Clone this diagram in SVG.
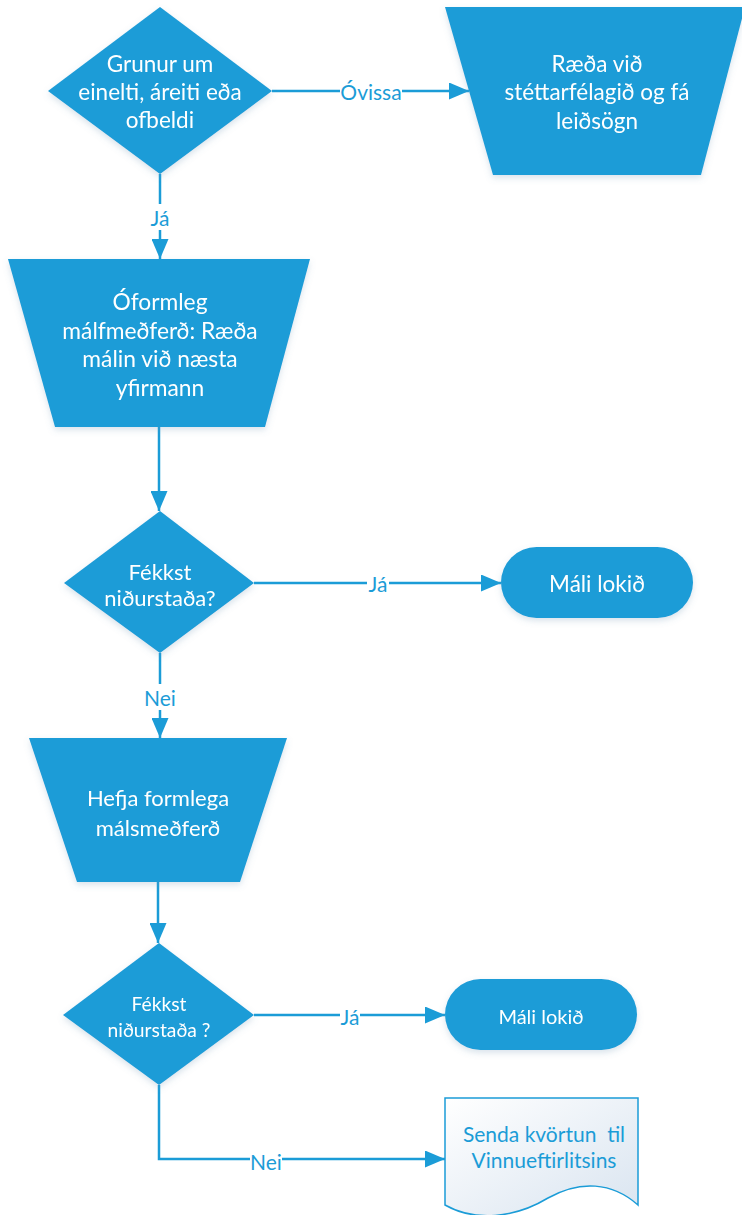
<svg xmlns="http://www.w3.org/2000/svg" width="742" height="1215" viewBox="0 0 742 1215">
<style>
.n{fill:#1b9cd7}
.t{font-family:Lato,"Liberation Sans",sans-serif;fill:#fff;text-anchor:middle;dominant-baseline:central}
.c{fill:none;stroke:#1b9cd7;stroke-width:2.5}
.l{font-family:Lato,"Liberation Sans",sans-serif;fill:#1b9cd7;font-size:21px;text-anchor:middle;dominant-baseline:central}
.bg{fill:#fff}
</style>
<defs>
<marker id="ah" markerWidth="20" markerHeight="17" refX="20" refY="8.5" orient="auto" markerUnits="userSpaceOnUse"><path d="M0,0 L20,8.5 L0,17 z" fill="#1b9cd7"/></marker>
<filter id="sh" x="-10%" y="-10%" width="120%" height="130%"><feDropShadow dx="0" dy="3" stdDeviation="3" flood-color="#6a8fb0" flood-opacity="0.25"/></filter>
<linearGradient id="dg" x1="0" y1="0" x2="1" y2="1"><stop offset="0" stop-color="#ffffff"/><stop offset="1" stop-color="#d9e4f0"/></linearGradient>
</defs>
<g id="connectors">
<path class="c" d="M272,91 H469" marker-end="url(#ah)"/>
<path class="c" d="M160,174 V259" marker-end="url(#ah)"/>
<path class="c" d="M159,427 V511" marker-end="url(#ah)"/>
<path class="c" d="M254,583 H501" marker-end="url(#ah)"/>
<path class="c" d="M160,653 V738" marker-end="url(#ah)"/>
<path class="c" d="M158,882 V943" marker-end="url(#ah)"/>
<path class="c" d="M254,1015 H445" marker-end="url(#ah)"/>
<path class="c" d="M159,1085 V1159 H445" marker-end="url(#ah)"/>
<rect class="bg" x="340" y="80" width="62" height="22"/><text class="l" x="371" y="91">Óvissa</text>
<rect class="bg" x="149" y="204" width="22" height="26"/><text class="l" x="160" y="217">Já</text>
<rect class="bg" x="367" y="570" width="22" height="26"/><text class="l" x="378" y="583">Já</text>
<rect class="bg" x="143" y="684" width="34" height="26"/><text class="l" x="160" y="697">Nei</text>
<rect class="bg" x="340" y="1003" width="20" height="26"/><text class="l" x="350" y="1016" font-size="20">Já</text>
<rect class="bg" x="250" y="1148" width="32" height="26"/><text class="l" x="266" y="1161" font-size="20">Nei</text>
</g>
<g id="d1" filter="url(#sh)">
<polygon class="n" points="160,7 272,91 160,174 48,91"/>
<text class="t" font-size="22.5"><tspan x="160" y="63">Grunur um</tspan><tspan x="160" y="91">einelti, áreiti eða</tspan><tspan x="160" y="119">ofbeldi</tspan></text>
</g>
<g id="p1" filter="url(#sh)">
<polygon class="n" points="445,7 745,7 701,175 493,175"/>
<text class="t" font-size="22.5"><tspan x="597" y="63">Ræða við</tspan><tspan x="597" y="91">stéttarfélagið og fá</tspan><tspan x="597" y="120">leiðsögn</tspan></text>
</g>
<g id="p2" filter="url(#sh)">
<polygon class="n" points="8,259 310,259 265,427 55,427"/>
<text class="t" font-size="22.8"><tspan x="160" y="301">Óformleg</tspan><tspan x="160" y="330">málfmeðferð: Ræða</tspan><tspan x="160" y="358">málin við næsta</tspan><tspan x="160" y="387">yfirmann</tspan></text>
</g>
<g id="d2" filter="url(#sh)">
<polygon class="n" points="160,511 254,583 160,653 64,583"/>
<text class="t" font-size="22"><tspan x="160" y="571">Fékkst</tspan><tspan x="160" y="597">niðurstaða?</tspan></text>
</g>
<g id="e1" filter="url(#sh)">
<rect class="n" x="501" y="547" width="192" height="71" rx="35.5"/>
<text class="t" font-size="22.5" x="597" y="583">Máli lokið</text>
</g>
<g id="p3" filter="url(#sh)">
<polygon class="n" points="29,738 287,738 240,882 77,882"/>
<text class="t" font-size="22"><tspan x="158" y="797">Hefja formlega</tspan><tspan x="158" y="827">málsmeðferð</tspan></text>
</g>
<g id="d3" filter="url(#sh)">
<polygon class="n" points="159,943 254,1015 159,1085 63,1015"/>
<text class="t" font-size="19.3"><tspan x="159" y="1003">Fékkst</tspan><tspan x="159" y="1029">niðurstaða ?</tspan></text>
</g>
<g id="e2" filter="url(#sh)">
<rect class="n" x="445" y="979" width="192" height="71" rx="35.5"/>
<text class="t" font-size="20" x="541" y="1016">Máli lokið</text>
</g>
<g id="doc">
<path d="M445,1098 H638 V1205 C612,1182 580,1180 548,1198 C515,1218 475,1222 445,1205 Z" fill="url(#dg)" stroke="#1b9cd7" stroke-width="1.5"/>
<text class="l" font-size="19.4"><tspan x="544" y="1133">Senda kvörtun&#160; til</tspan><tspan x="544" y="1159">Vinnueftirlitsins</tspan></text>
</g>
</svg>
